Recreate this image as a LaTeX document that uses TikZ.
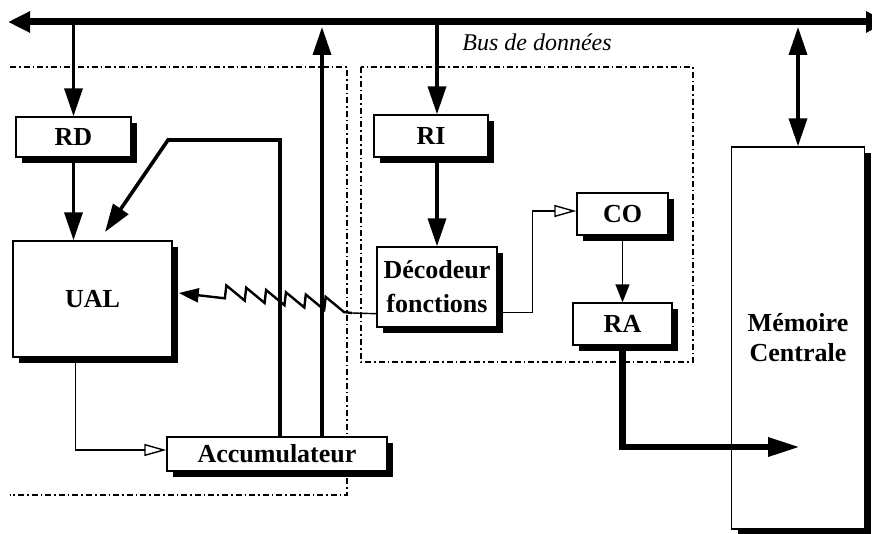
\documentclass[tikz,border=0pt]{standalone}
\usepackage{fontspec}
\setmainfont{Liberation Serif}
\usetikzlibrary{arrows.meta,shadows,decorations.pathmorphing,calc}
\tikzset{
  reg/.style={draw, line width=0.7pt, fill=white, align=center, inner sep=0pt, font=\fontsize{13}{15}\selectfont\bfseries, general shadow={fill=black, shadow xshift=3pt, shadow yshift=-3pt}},
  bus/.style={line width=3.5pt, {Triangle[length=11pt,width=10pt]}-{Triangle[length=11pt,width=10pt]}},
  arr/.style={-{Triangle[length=14pt,width=9pt]}, line width=1.8pt},
  fin/.style={line width=0.7pt},
  hollow/.style={fin, -{Triangle[open,length=11pt,width=6pt]}},
  zig/.style={line width=1.2pt, decorate, decoration={saw, mirror, segment length=10pt, amplitude=6.5pt, pre length=4pt, post length=14pt}, -{Triangle[length=10pt,width=7pt]}},
  zone/.style={line width=0.6pt, dash pattern=on 3pt off 1.5pt on 0.8pt off 1.5pt},
}

\begin{document}
\begin{tikzpicture}[x=0.5pt,y=-0.5pt]
      \useasboundingbox (0,0) rectangle (872,534);
      \draw[zone] (10,67) -| (347,495) -- (10,495);
      \draw[zone] (361,67) rectangle (693,362);
      \coordinate (busL) at (8,22);
      \coordinate (busR) at (888,22);
      \draw[bus] (busL) -- (busR);
      \node[font=\fontsize{12}{14}\selectfont\itshape] (buslbl) at (537,42) {Bus de données};
      \node[reg, minimum width=57.5pt, minimum height=20pt] (rd) at (73.5,137) {RD};
      \node[reg, minimum width=79.5pt, minimum height=58pt] (ual) at (92.5,299) {UAL};
      \node[reg, minimum width=110pt, minimum height=17pt] (acc) at (277,454) {Accumulateur};
      \node[reg, minimum width=57pt, minimum height=21pt] (ri) at (431,136) {RI};
      \node[reg, minimum width=60pt, minimum height=40pt] (dec) at (437,287) {Décodeur\\[2pt]fonctions};
      \node[reg, minimum width=45.5pt, minimum height=21pt] (co) at (622.5,214) {CO};
      \node[reg, minimum width=49.5pt, minimum height=21pt] (ra) at (622.5,324) {RA};
      \node[reg, minimum width=66.5pt, minimum height=191pt] (mem) at (798,338) {Mémoire\\Centrale};
      \coordinate (accbus) at (322,27);
      \coordinate (fbtop) at (280,140);
      \coordinate (fbin) at (105,232);
      \coordinate (zz) at (352,313);
      \coordinate (ramem) at (800,447);
      \draw[arr] (rd.north |- busL) -- (rd.north);
      \draw[arr] (rd.south) -- (rd.south |- ual.north);
      \draw[arr] (acc.north -| fbtop) -- (fbtop) -- ++(-112,0) -- (fbin);
      \draw[arr] (acc.north -| accbus) -- (accbus);
      \draw[hollow] ($(ual.south)+(-17,0)$) |- ($(acc.west)+(0,-4)$);
      \draw[arr] (dec.north |- busL) -- (dec.north |- ri.north);
      \draw[arr] (dec.north |- ri.south) -- (dec.north);
      \draw[hollow] ($(dec.south east)+(0,-15)$) -- ++(35,0) |- ($(co.west)+(0,-3)$);
      \draw[fin, -{Triangle[length=9pt,width=7pt]}] (co.south) -- (ra.north);
      \draw[line width=3.2pt, -{Triangle[length=16pt,width=9pt]}] (ra.south) |- (ramem);
      \draw[arr, {Triangle[length=14pt,width=9pt]}-{Triangle[length=14pt,width=9pt]}] ($(mem.north |- busL)+(0,5)$) -- (mem.north);
      \draw[fin] ($(dec.south west)+(0,-14)$) -- (zz);
      \draw[zig] (zz) -- ($(ual.east)+(6,-6)$);
    \end{tikzpicture}
\end{document}
